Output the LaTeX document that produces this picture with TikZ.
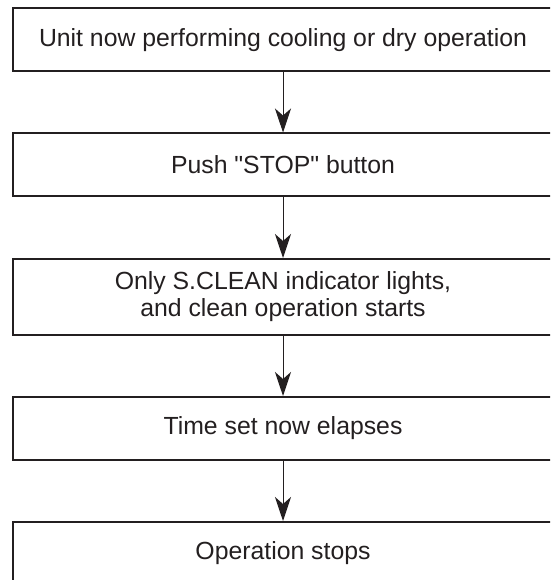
\documentclass[tikz,border=0pt]{standalone}
\usepackage{fontspec}
\newfontfamily\lsans{Liberation Sans}
\usetikzlibrary{arrows.meta}
\definecolor{ink}{HTML}{231F20}
\begin{document}
\begin{tikzpicture}[x=1pt,y=-1pt,
  flowbox/.style={draw=ink, line width=2pt, minimum width=541pt, text=ink,
    font=\lsans\fontsize{24.8}{27}\selectfont, align=center, inner sep=0pt},
  arr/.style={draw=ink, line width=1pt, -{Stealth[length=24pt,width=16pt,inset=7pt]}}]
\clip (0,0) rectangle (550,580);
\node[flowbox, minimum height=62.5pt] (n1) at (283,39.75) {Unit now performing cooling or dry operation};
\node[flowbox, minimum height=62.5pt] (n2) at (283,164.75) {Push "STOP" button};
\node[flowbox, minimum height=75.5pt] (n3) at (283,296.75) {Only S.CLEAN indicator lights,\\and clean operation starts};
\node[flowbox, minimum height=63pt] (n4) at (283,428.5) {Time set now elapses};
\node[flowbox, minimum height=63pt] (n5) at (283,553.5) {Operation stops};
\draw[arr] (n1) -- (n2);
\draw[arr] (n2) -- (n3);
\draw[arr] (n3) -- (n4);
\draw[arr] (n4) -- (n5);
\end{tikzpicture}
\end{document}
